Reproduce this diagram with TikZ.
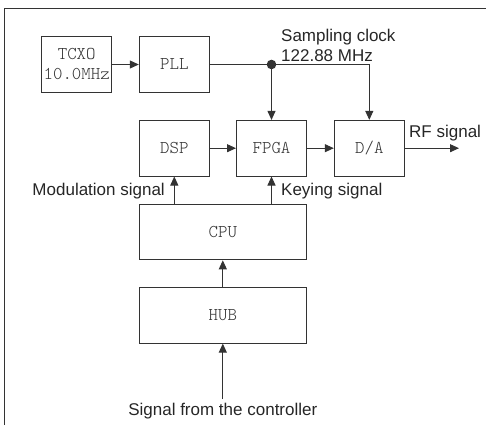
\documentclass[tikz,border=0pt]{standalone}
\usepackage{fontspec}
\setmainfont{Liberation Sans}
\newfontfamily\monof{lmmonolt10-regular}[Extension=.otf]
\usetikzlibrary{arrows.meta}
\definecolor{ink}{gray}{0.2}
\begin{document}
\begin{tikzpicture}[x=1pt,y=-1pt,
  blk/.style={draw=ink,line width=1pt,rectangle,inner sep=0pt,minimum width=70pt,minimum height=55.6pt,font=\monof\fontsize{18}{20}\selectfont,text=ink,align=center},
  wide/.style={blk,minimum width=167pt},
  lbl/.style={inner sep=0pt,font=\fontsize{17}{20}\selectfont,text=black!85,align=left},
  conn/.style={draw=ink,line width=1pt},
  arr/.style={conn,-{Triangle[length=9pt,width=8pt]}}]
\useasboundingbox (0,0) rectangle (486,425);
\draw[conn] (4,425) -- (4,9) -- (486,9);
\node[blk] (tcxo) at (76.7,64.5) {TCXO\\10.0MHz};
\node[blk] (pll) at (174.3,64.5) {PLL};
\node[blk] (dsp) at (174.3,148.2) {DSP};
\node[blk] (fpga) at (271.5,148.2) {FPGA};
\node[blk] (da) at (369.3,148.2) {D/A};
\node[wide] (cpu) at (222.8,232) {CPU};
\node[wide] (hub) at (222.8,315.3) {HUB};
\coordinate (dot) at (271.5,64.5);
\coordinate (corner) at (369.3,64.5);
\coordinate (rf) at (459,148.2);
\coordinate (in) at (222.8,399);
\fill[ink] (dot) circle (4.8pt);
\draw[arr] (tcxo) -- (pll);
\draw[conn] (pll.east) -- (dot) -- (corner);
\draw[arr] (dot) -- (fpga.north);
\draw[arr] (corner) -- (da.north);
\draw[arr] (dsp) -- (fpga);
\draw[arr] (fpga) -- (da);
\draw[arr] (da.east) -- (rf);
\draw[arr] (cpu.north -| dsp) -- (dsp.south);
\draw[arr] (cpu.north -| fpga) -- (fpga.south);
\draw[arr] (hub) -- (cpu);
\draw[arr] (in) -- (hub.south);
\node[lbl,anchor=west] (samp) at (281,45) {Sampling clock\\122.88 MHz};
\node[lbl,anchor=west] (rfl) at (409,133) {RF signal};
\node[lbl,anchor=east] (mod) at (165,191) {Modulation signal};
\node[lbl,anchor=west] (key) at (281,191) {Keying signal};
\node[lbl,anchor=center] (ctrl) at (222.8,411) {Signal from the controller};
\end{tikzpicture}
\end{document}
